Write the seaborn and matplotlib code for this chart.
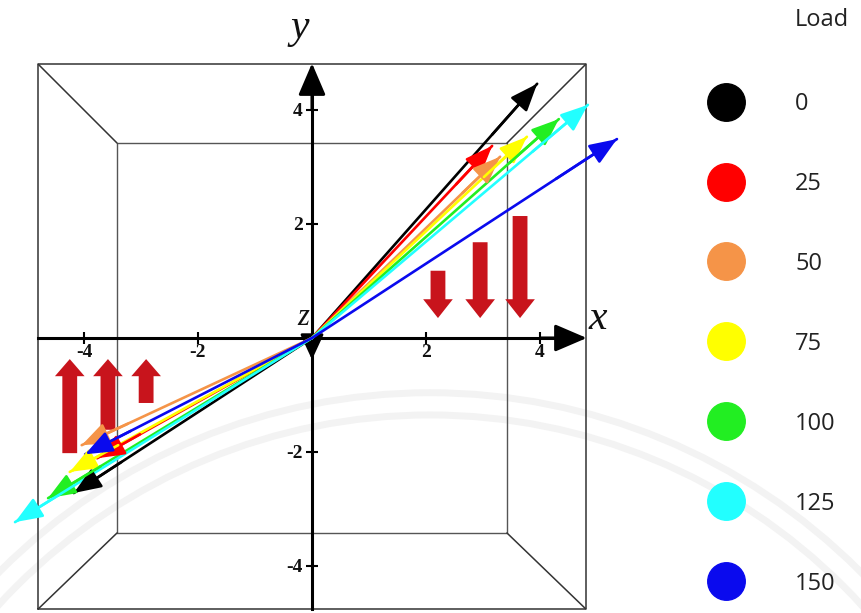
import numpy as np
import pandas as pd
import matplotlib
matplotlib.use("Agg")
import matplotlib.pyplot as plt
import seaborn as sns
from matplotlib.lines import Line2D
from matplotlib.patches import Arc

# ---------------- data ----------------
loads = [0, 25, 50, 75, 100, 125, 150]
load_colors = ["#000000", "#ff0000", "#f59448", "#ffff00", "#22ee22", "#22ffff", "#0a0aee"]
# vector tips (upper-right set and lower-left set), in axis units
tip_pos_x = [3.95, 3.16, 3.30, 3.77, 4.33, 4.84, 5.35]
tip_pos_y = [4.46, 3.37, 3.18, 3.53, 3.84, 4.09, 3.49]
tip_neg_x = [-4.18, -3.77, -4.04, -4.25, -4.63, -5.21, -3.98]
tip_neg_y = [-2.72, -2.11, -1.88, -2.35, -2.81, -3.23, -2.04]
# red load-direction arrows
force_down_x = [2.21, 2.95, 3.65]
force_down_top = [1.18, 1.68, 2.14]
force_down_tip = 0.35
force_up_x = [-4.25, -3.58, -2.91]
force_up_bottom = [-2.02, -1.61, -1.14]
force_up_tip = -0.37
tick_values = [-4, -2, 2, 4]
tick_labels = ["-4", "-2", "2", "4"]

# ---------------- figure ----------------
sns.set_theme(style="white")
W, H = 862, 613
fig = plt.figure(figsize=(W / 100, H / 100), dpi=100)
ax = fig.add_axes([0, 0, 1, 1])
PX, OX, OY = 57.0, 312.0, 338.0
ax.set_xlim(-OX / PX, (W - OX) / PX)
ax.set_ylim(-(H - OY) / PX, OY / PX)
ax.set_facecolor("white")
fig.patch.set_facecolor("white")

# faint watermark arcs
for r in (10.65, 10.26):
    ax.add_patch(Arc((2.07, -11.61), 2 * r, 2 * r, theta1=0, theta2=180,
                     color="#f3f3f3", lw=5, zorder=0))

# perspective box
OUT, INN = 4.8, 3.42
OUTB = -4.75
ax.plot([-OUT, OUT, OUT, -OUT, -OUT], [OUTB, OUTB, OUT, OUT, OUTB], color="#333333", lw=1.1, zorder=1)
ax.plot([-INN, INN, INN, -INN, -INN], [-INN, -INN, INN, INN, -INN], color="#555555", lw=1.0, zorder=1)
for (ox_, oy_), (ix_, iy_) in [((-OUT, OUT), (-INN, INN)), ((OUT, OUT), (INN, INN)),
                               ((-OUT, OUTB), (-INN, -INN)), ((OUT, OUTB), (INN, -INN))]:
    ax.plot([ox_, ix_], [oy_, iy_], color="#333333", lw=1.1, zorder=1)

# axes through origin
for side in ("top", "right"):
    ax.spines[side].set_visible(False)
ax.spines["left"].set_position(("data", 0))
ax.spines["bottom"].set_position(("data", 0))
ax.spines["left"].set_bounds(OUTB, 4.5)
ax.spines["bottom"].set_bounds(-4.8, 4.5)
for side in ("left", "bottom"):
    ax.spines[side].set_color("black")
    ax.spines[side].set_linewidth(2.2)
    ax.spines[side].set_zorder(3)
ax.set_xticks(tick_values, tick_labels, fontfamily="Liberation Serif", fontweight="bold", fontsize=14)
ax.set_yticks(tick_values, tick_labels, fontfamily="Liberation Serif", fontweight="bold", fontsize=14)
ax.tick_params(axis="both", direction="inout", length=9, width=1.5, color="black",
               labelcolor="#111111", bottom=True, left=True)
ax.tick_params(axis="x", pad=0)
ax.tick_params(axis="y", pad=2)

axis_head = dict(arrowstyle="-|>,head_length=1.4,head_width=0.6", mutation_scale=14,
                 color="black", lw=2.2, shrinkA=0, shrinkB=0)
ax.annotate("", xy=(4.82, 0), xytext=(4.0, 0), arrowprops=axis_head, zorder=4)
ax.annotate("", xy=(0, 4.82), xytext=(0, 4.0), arrowprops=axis_head, zorder=4)
ax.annotate("", xy=(0, -0.38), xytext=(0, 0.02),
            arrowprops=dict(arrowstyle="-|>,head_length=1.3,head_width=0.6", mutation_scale=12,
                            color="black", lw=2, shrinkA=0, shrinkB=0), zorder=4)

ax.text(-0.21, 5.44, "y", fontfamily="Liberation Serif", fontstyle="italic", fontsize=30,
        ha="center", va="center", color="#111111")
ax.text(5.02, 0.34, "x", fontfamily="Liberation Serif", fontstyle="italic", fontsize=30,
        ha="center", va="center", color="#111111")
ax.text(-0.16, 0.36, "z", fontfamily="Liberation Serif", fontstyle="italic", fontsize=22,
        ha="center", va="center", color="#111111")

# red load arrows
force_color = "#c8141c"
for x, top in zip(force_down_x, force_down_top):
    ax.arrow(x, top, 0, force_down_tip - top, width=0.26, head_width=0.52, head_length=0.33,
             length_includes_head=True, fc=force_color, ec="none", zorder=2)
for x, bot in zip(force_up_x, force_up_bottom):
    ax.arrow(x, bot, 0, force_up_tip - bot, width=0.26, head_width=0.52, head_length=0.30,
             length_includes_head=True, fc=force_color, ec="none", zorder=2)

# vectors
rows = []
for i, ld in enumerate(loads):
    for tag, tx, ty in (("p", tip_pos_x[i], tip_pos_y[i]), ("n", tip_neg_x[i], tip_neg_y[i])):
        rows.append(dict(Load=ld, seg=f"{ld}{tag}", x=0.0, y=0.0, k=0))
        rows.append(dict(Load=ld, seg=f"{ld}{tag}", x=tx, y=ty, k=1))
vec = pd.DataFrame(rows)
palette = dict(zip(loads, load_colors))
sns.lineplot(data=vec, x="x", y="y", hue="Load", units="seg", estimator=None, sort=False,
             palette=palette, lw=1.9, legend=False, ax=ax, zorder=5)
head = dict(arrowstyle="-|>,head_length=1.4,head_width=0.55", mutation_scale=12, lw=1.9,
            shrinkA=0, shrinkB=0)
for i, ld in enumerate(loads):
    for tx, ty in ((tip_pos_x[i], tip_pos_y[i]), (tip_neg_x[i], tip_neg_y[i])):
        ax.annotate("", xy=(tx, ty), xytext=(0.8 * tx, 0.8 * ty),
                    arrowprops=dict(color=load_colors[i], **head), zorder=5)
ax.set_xlabel("")
ax.set_ylabel("")

# legend
handles = [Line2D([], [], ls="none", marker="o", markersize=27, markerfacecolor=c,
                  markeredgecolor=c) for c in load_colors]
leg = fig.legend(handles, [str(v) for v in loads], loc="upper left",
                 bbox_to_anchor=(702 / W, 1 - 80 / H), frameon=False, borderpad=0,
                 handlelength=1.0, handletextpad=2.45, labelspacing=2.37,
                 prop=dict(family="Open Sans", size=17))
for t in leg.get_texts():
    t.set_color("#222222")
fig.text(795 / W, 1 - 20 / H, "Load", fontfamily="Open Sans", fontsize=17,
         color="#222222", ha="left", va="center")

fig.savefig("out.png", dpi=100)
